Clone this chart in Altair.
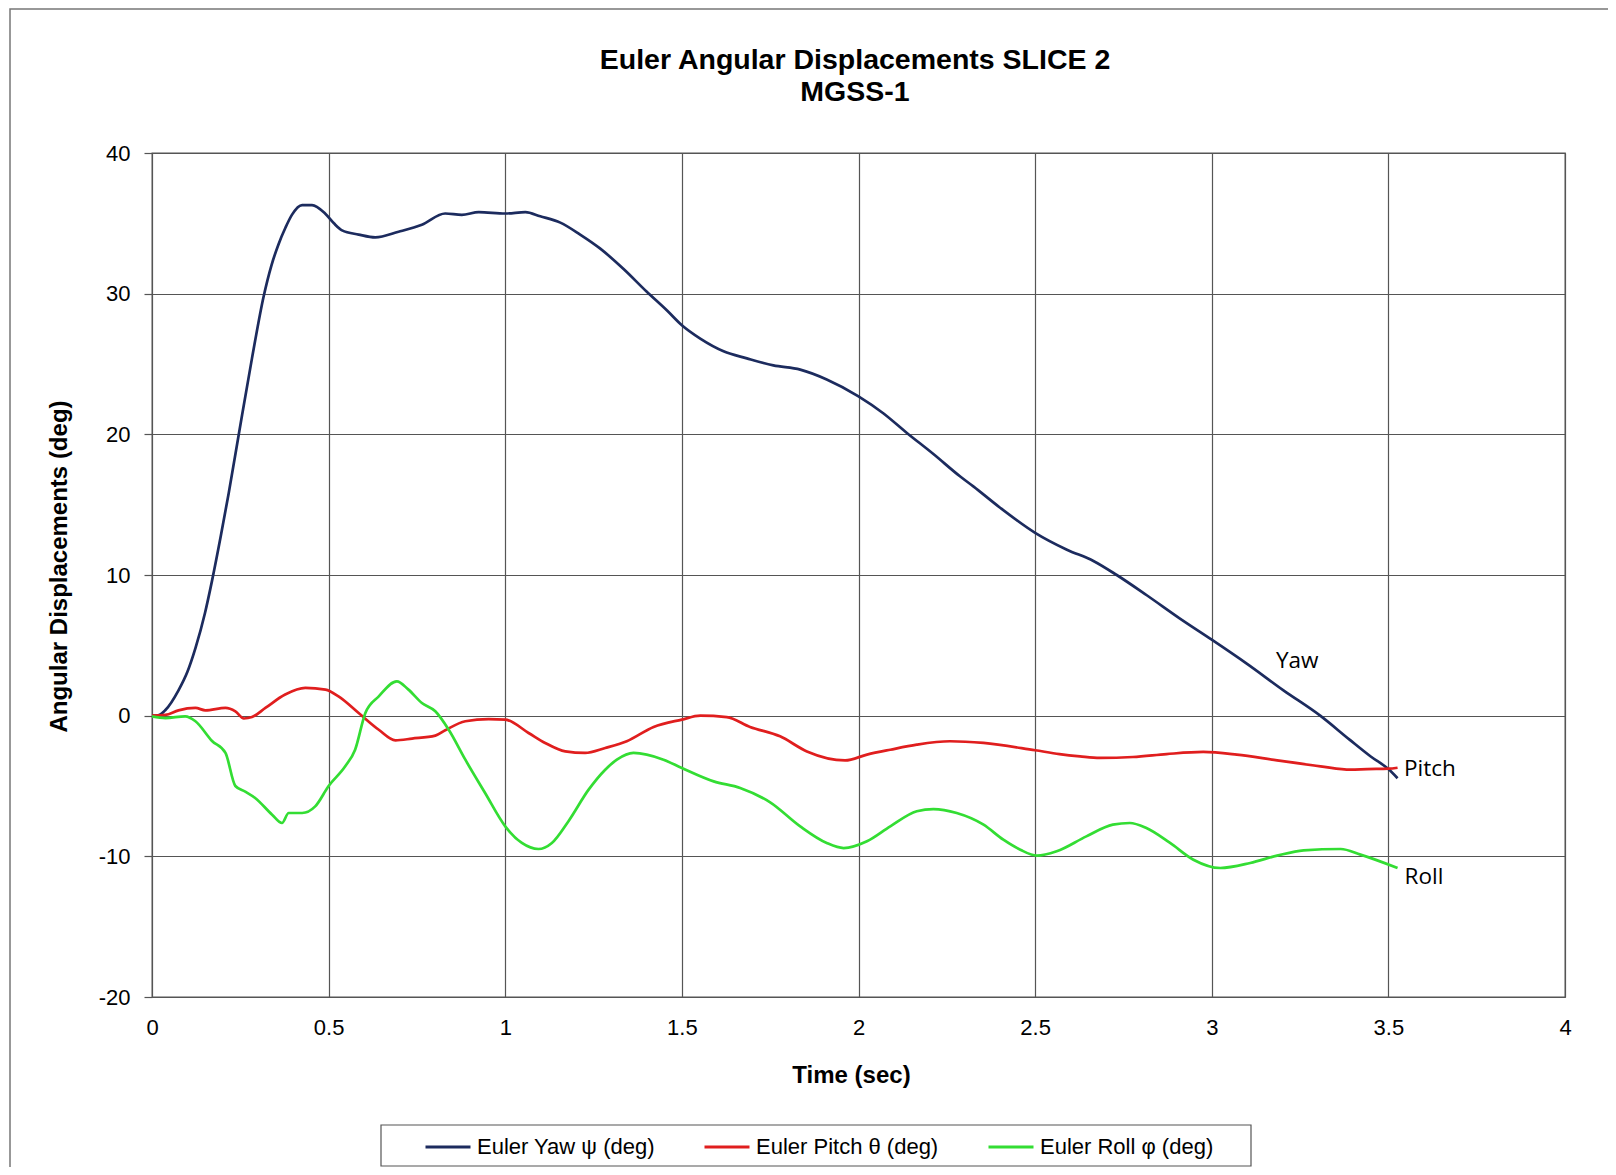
import altair as alt
import pandas as pd

# ---- data ----
yaw_t = [0, 0.02, 0.038, 0.075, 0.1, 0.123, 0.15, 0.17, 0.195, 0.217, 0.245, 0.283, 0.316, 0.338,
         0.358, 0.378, 0.396, 0.425, 0.453, 0.49, 0.515, 0.538, 0.585, 0.632, 0.698, 0.764, 0.83,
         0.877, 0.925, 1.0, 1.057, 1.099, 1.156, 1.212, 1.269, 1.335, 1.40, 1.458, 1.5, 1.552,
         1.618, 1.684, 1.759, 1.835, 1.91, 2.0, 2.07, 2.137, 2.212, 2.288, 2.325, 2.40, 2.5,
         2.59, 2.665, 2.731, 2.816, 2.91, 3.0, 3.099, 3.203, 3.307, 3.39, 3.45, 3.5, 3.526]
yaw_v = [0, 0.05, 0.4, 1.8, 3.1, 4.8, 7.3, 9.6, 12.8, 15.8, 19.9, 25.4, 29.8, 32.0,
         33.5, 34.7, 35.6, 36.3, 36.3, 35.7, 35.0, 34.5, 34.2, 34.0, 34.4, 34.9, 35.7,
         35.6, 35.8, 35.7, 35.8, 35.5, 35.05, 34.2, 33.2, 31.75, 30.15, 28.8, 27.75, 26.8,
         25.9, 25.4, 24.9, 24.6, 23.9, 22.7, 21.5, 20.1, 18.6, 17.0, 16.3, 14.8, 13.0,
         11.8, 11.0, 10.0, 8.56, 6.9, 5.4, 3.7, 1.8, 0, -1.7, -2.9, -3.8, -4.45]

pitch_t = [0, 0.038, 0.075, 0.123, 0.151, 0.208, 0.236, 0.26, 0.283, 0.321, 0.377, 0.434, 0.491,
           0.528, 0.585, 0.642, 0.689, 0.736, 0.802, 0.83, 0.887, 0.953, 1.0, 1.066, 1.113, 1.17,
           1.226, 1.283, 1.344, 1.42, 1.5, 1.552, 1.627, 1.693, 1.778, 1.854, 1.962, 2.024, 2.09,
           2.165, 2.259, 2.354, 2.5, 2.569, 2.627, 2.683, 2.777, 2.872, 2.976, 3.071, 3.185,
           3.308, 3.393, 3.44, 3.5, 3.526]
pitch_v = [0, 0.05, 0.38, 0.55, 0.38, 0.55, 0.3, -0.2, -0.1, 0.55, 1.5, 1.97, 1.85,
           1.37, 0.19, -1.0, -1.75, -1.63, -1.42, -1.04, -0.4, -0.24, -0.28, -1.23, -1.94, -2.54,
           -2.65, -2.3, -1.82, -0.8, -0.28, 0, -0.1, -0.8, -1.47, -2.54, -3.18, -2.77, -2.42,
           -2.06, -1.82, -1.94, -2.46, -2.73, -2.89, -3.0, -2.94, -2.73, -2.58, -2.77, -3.18,
           -3.6, -3.84, -3.8, -3.77, -3.7]

roll_t = [0, 0.038, 0.094, 0.123, 0.17, 0.208, 0.236, 0.264, 0.292, 0.34, 0.368, 0.387, 0.425,
          0.462, 0.5, 0.547, 0.575, 0.604, 0.642, 0.693, 0.726, 0.764, 0.802, 0.84, 0.887, 0.943,
          1.0, 1.047, 1.094, 1.132, 1.179, 1.236, 1.283, 1.316, 1.363, 1.448, 1.5, 1.59, 1.665,
          1.75, 1.835, 1.91, 1.958, 2.024, 2.09, 2.165, 2.212, 2.278, 2.354, 2.41, 2.458, 2.505,
          2.561, 2.645, 2.72, 2.768, 2.815, 2.882, 2.948, 3.024, 3.109, 3.185, 3.26, 3.365,
          3.421, 3.526]
roll_v = [-0.05, -0.17, -0.05, -0.4, -1.8, -2.65, -5.0, -5.4, -5.85, -7.04, -7.63, -6.92, -6.92,
          -6.45, -5.0, -3.6, -2.42, 0.19, 1.37, 2.44, 1.85, 0.9, 0.31, -1.0, -3.13, -5.5,
          -7.87, -9.05, -9.48, -9.05, -7.5, -5.26, -3.84, -3.13, -2.65, -3.13, -3.72, -4.67, -5.14,
          -6.16, -7.87, -9.05, -9.41, -8.93, -7.87, -6.8, -6.64, -6.92, -7.75, -8.82, -9.53, -9.95,
          -9.64, -8.58, -7.75, -7.63, -7.99, -9.05, -10.24, -10.83, -10.47, -9.95, -9.57, -9.48,
          -9.88, -10.83]

series_names = ["Euler Yaw \u03c8 (deg)", "Euler Pitch \u03b8 (deg)", "Euler Roll \u03c6 (deg)"]
series_colors = ["#1C2B5E", "#E01E1E", "#33DD33"]

x_ticks = [0, 0.5, 1, 1.5, 2, 2.5, 3, 3.5, 4]
y_ticks = [-20, -10, 0, 10, 20, 30, 40]

note_text = ["Yaw", "Pitch", "Roll"]
note_t = [3.182, 3.544, 3.546]
note_v = [3.9, -3.78, -11.45]

title_lines = ["Euler Angular Displacements SLICE 2", "MGSS-1"]
x_title = "Time (sec)"
y_title = "Angular Displacements (deg)"

# ---- build table ----
rows = []
for name, ts, vs in zip(series_names, [yaw_t, pitch_t, roll_t], [yaw_v, pitch_v, roll_v]):
    for i, (t, v) in enumerate(zip(ts, vs)):
        rows.append({"series": name, "t": t, "v": v, "order": i})
df = pd.DataFrame(rows)
notes = pd.DataFrame({"label": note_text, "t": note_t, "v": note_v})
one = pd.DataFrame({"a": [0]})

FONT = "Liberation Sans"

x_enc = alt.X("t:Q", scale=alt.Scale(domain=[0, 4], nice=False),
              axis=alt.Axis(values=x_ticks, labelExpr="'' + datum.value", title=x_title,
                            grid=True, ticks=False, tickSize=0, domain=False, labelPadding=20,
                            labelFlush=False, labelOverlap=False,
                            titleX=699, titleY=78, titleBaseline="middle"))
y_enc = alt.Y("v:Q", scale=alt.Scale(domain=[-20, 40], nice=False),
              axis=alt.Axis(values=y_ticks, labelExpr="'' + datum.value", title=y_title,
                            grid=True, ticks=True, tickSize=8, domain=False, labelPadding=14,
                            labelFlush=False, labelOverlap=False,
                            titleX=-93, titleY=413, titleBaseline="middle"))

lines = alt.Chart(df).mark_line(strokeWidth=2.7, interpolate="monotone").encode(
    x=x_enc,
    y=y_enc,
    color=alt.Color("series:N",
                    scale=alt.Scale(domain=series_names, range=series_colors),
                    sort=series_names,
                    legend=alt.Legend(orient="none", direction="horizontal", title=None,
                                      legendX=272, legendY=970, symbolType="stroke",
                                      symbolSize=2025, symbolStrokeWidth=3,
                                      labelFont=FONT, labelFontSize=22, labelColor="#000",
                                      labelOffset=5, columnPadding=43, padding=0,
                                      labelLimit=400)),
    order="order:Q",
)

texts = alt.Chart(notes).mark_text(align="left", baseline="middle", font="Open Sans",
                                   fontSize=22.5, color="#000").encode(
    x="t:Q", y="v:Q", text="label:N")

title_mark = alt.Chart(one).mark_text(align="center", baseline="alphabetic", font=FONT,
                                      fontSize=28.5, fontWeight="bold", color="#000",
                                      lineHeight=32).encode(
    x=alt.value(703), y=alt.value(-84), text=alt.value(title_lines))

legend_box = alt.Chart(one).mark_rect(fillOpacity=0, stroke="#555", strokeWidth=1.2).encode(
    x=alt.value(229), x2=alt.value(1099), y=alt.value(972), y2=alt.value(1013))

outer_box = alt.Chart(one).mark_rect(fillOpacity=0, stroke="#777", strokeWidth=1.5).encode(
    x=alt.value(-142), x2=alt.value(1600), y=alt.value(-144), y2=alt.value(1200))

chart = alt.layer(outer_box, lines, texts, title_mark, legend_box).properties(
    width=1413, height=844,
    autosize=alt.AutoSizeParams(type="none"),
    padding={"left": 144, "top": 145, "right": 43, "bottom": 170},
    background="white",
).configure_axis(
    labelFont=FONT, labelFontSize=22, labelColor="#000",
    titleFont=FONT, titleFontSize=24, titleFontWeight="bold", titleColor="#000",
    gridColor="#555", gridWidth=1.2, gridOpacity=1, tickColor="#555", tickWidth=1.2,
).configure_view(stroke="#555", strokeWidth=1.3)

chart.save("out.html", embed_options={"renderer": "svg", "actions": False})
